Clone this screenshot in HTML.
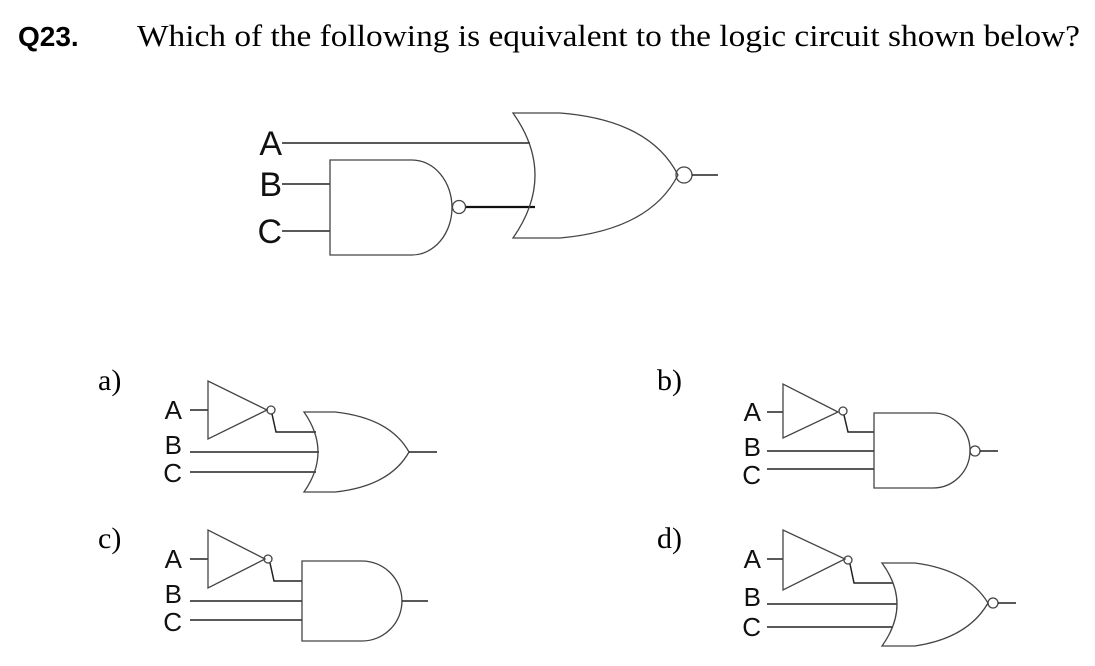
<!DOCTYPE html>
<html><head><meta charset="utf-8"><style>
html,body{margin:0;padding:0;background:#fff;}
svg{display:block;}
.g{fill:none;stroke:#444;stroke-width:1.3;}
.w{fill:none;stroke:#222;stroke-width:1.5;}
.lb{font-family:"Liberation Sans",sans-serif;fill:#111;}
.sf{font-family:"Liberation Serif",serif;fill:#000;}
</style></head><body>
<svg width="1095" height="666" viewBox="0 0 1095 666">
<text x="18" y="46" font-family="Liberation Sans" font-weight="bold" font-size="28">Q23.</text>
<text x="137" y="46" class="sf" font-size="31" textLength="943" lengthAdjust="spacingAndGlyphs">Which of the following is equivalent to the logic circuit shown below?</text>

<!-- main circuit -->
<g class="lb" font-size="34" text-anchor="end">
<text x="282" y="155">A</text><text x="282" y="196">B</text><text x="282" y="243">C</text>
</g>
<line class="w" x1="282" y1="143" x2="530" y2="143"/>
<line class="w" x1="282" y1="184" x2="330" y2="184"/>
<line class="w" x1="282" y1="231" x2="330" y2="231"/>
<path class="g" d="M330,160 L412,160 A40,47.5 0 0 1 412,255 L330,255 Z"/>
<circle class="g" cx="459" cy="207" r="6.5"/>
<line x1="466" y1="207" x2="535" y2="207" stroke="#111" stroke-width="2.2"/>
<path class="g" d="M513,113 L560,113 Q650,120 678,175 Q650,230 560,238 L513,238 Q557,175 513,113 Z"/>
<circle class="g" cx="684" cy="175" r="8"/>
<line class="w" x1="692" y1="175" x2="718" y2="175"/>

<!-- labels -->
<g class="sf" font-size="30">
<text x="98" y="390">a)</text><text x="657" y="390">b)</text>
<text x="98" y="548">c)</text><text x="657" y="548">d)</text>
</g>

<!-- a -->
<g class="lb" font-size="26" text-anchor="end">
<text x="182" y="419">A</text><text x="182" y="454">B</text><text x="182" y="482">C</text>
</g>
<line class="w" x1="190" y1="410" x2="208" y2="410"/>
<path class="g" d="M208,381 L208,439 L267,410 Z"/>
<circle class="g" cx="271" cy="410" r="4"/>
<path class="w" d="M272,414 L276,432 L316,432"/>
<line class="w" x1="190" y1="452" x2="319" y2="452"/>
<line class="w" x1="190" y1="472" x2="316" y2="472"/>
<path class="g" d="M304,412 L335,412 Q390,418 409,452 Q390,486 335,492 L304,492 Q332,452 304,412 Z"/>
<line class="w" x1="409" y1="452" x2="437" y2="452"/>

<!-- b -->
<g class="lb" font-size="26" text-anchor="end">
<text x="761" y="421">A</text><text x="761" y="456">B</text><text x="761" y="484">C</text>
</g>
<line class="w" x1="767" y1="412" x2="783" y2="412"/>
<path class="g" d="M783,384 L783,438 L838,412 Z"/>
<circle class="g" cx="843" cy="411" r="4"/>
<path class="w" d="M844,415 L848,432 L874,432"/>
<line class="w" x1="767" y1="451" x2="874" y2="451"/>
<line class="w" x1="767" y1="469" x2="874" y2="469"/>
<path class="g" d="M874,413 L933,413 A37,37.5 0 0 1 933,488 L874,488 Z"/>
<circle class="g" cx="975" cy="451" r="5"/>
<line class="w" x1="980" y1="451" x2="998" y2="451"/>

<!-- c -->
<g class="lb" font-size="26" text-anchor="end">
<text x="182" y="568">A</text><text x="182" y="603">B</text><text x="182" y="631">C</text>
</g>
<line class="w" x1="190" y1="559" x2="208" y2="559"/>
<path class="g" d="M208,530 L208,588 L265,559 Z"/>
<circle class="g" cx="268" cy="559" r="4"/>
<path class="w" d="M270,563 L274,581 L302,581"/>
<line class="w" x1="190" y1="601" x2="302" y2="601"/>
<line class="w" x1="190" y1="620" x2="302" y2="620"/>
<path class="g" d="M302,561 L362,561 A40,40 0 0 1 362,641 L302,641 Z"/>
<line class="w" x1="402" y1="601" x2="428" y2="601"/>

<!-- d -->
<g class="lb" font-size="26" text-anchor="end">
<text x="761" y="568">A</text><text x="761" y="606">B</text><text x="761" y="636">C</text>
</g>
<line class="w" x1="767" y1="559" x2="783" y2="559"/>
<path class="g" d="M783,530 L783,590 L845,559 Z"/>
<circle class="g" cx="848" cy="560" r="4"/>
<path class="w" d="M850,564 L854,583 L893,583"/>
<line class="w" x1="767" y1="604" x2="897" y2="604"/>
<line class="w" x1="767" y1="627" x2="893" y2="627"/>
<path class="g" d="M882,563 L915,563 Q968,570 988,603 Q968,638 915,646 L882,646 Q912,604 882,563 Z"/>
<circle class="g" cx="993" cy="603" r="5"/>
<line class="w" x1="998" y1="603" x2="1016" y2="603"/>
</svg>
</body></html>
